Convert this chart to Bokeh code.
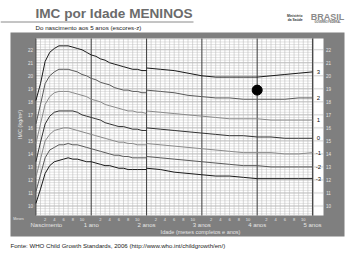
import numpy as np
from bokeh.plotting import figure
from bokeh.models import Range1d
from bokeh.core.properties import value
from bokeh.embed import file_html
from bokeh.resources import INLINE

# ---------------- data ----------------
months_0_2 = list(range(0, 25))
z_m3_0_2 = [10.2, 11.3, 12.5, 13.1, 13.4, 13.5, 13.6, 13.7, 13.6, 13.6, 13.5, 13.4, 13.4, 13.3, 13.2, 13.1, 13.1, 13.0, 12.9, 12.9, 12.8, 12.8, 12.8, 12.8, 12.8]
z_m2_0_2 = [11.1, 12.4, 13.7, 14.3, 14.5, 14.7, 14.7, 14.8, 14.7, 14.7, 14.6, 14.5, 14.4, 14.3, 14.2, 14.1, 14.0, 13.9, 13.9, 13.8, 13.8, 13.7, 13.7, 13.7, 13.7]
z_m1_0_2 = [12.2, 13.6, 15.0, 15.5, 15.8, 15.9, 16.0, 16.0, 15.9, 15.8, 15.7, 15.6, 15.5, 15.4, 15.3, 15.2, 15.1, 15.0, 14.9, 14.9, 14.8, 14.8, 14.7, 14.7, 14.7]
z_0_0_2 = [13.4, 14.9, 16.3, 16.9, 17.2, 17.3, 17.3, 17.3, 17.3, 17.2, 17.0, 16.9, 16.8, 16.7, 16.6, 16.4, 16.3, 16.2, 16.1, 16.1, 16.0, 15.9, 15.9, 15.8, 15.8]
z_p1_0_2 = [14.8, 16.3, 17.8, 18.4, 18.7, 18.8, 18.8, 18.8, 18.7, 18.6, 18.5, 18.4, 18.2, 18.1, 18.0, 17.8, 17.7, 17.6, 17.5, 17.4, 17.3, 17.3, 17.2, 17.2, 17.1]
z_p2_0_2 = [16.3, 17.8, 19.4, 20.0, 20.3, 20.5, 20.5, 20.5, 20.4, 20.3, 20.1, 20.0, 19.8, 19.7, 19.5, 19.4, 19.3, 19.1, 19.0, 18.9, 18.9, 18.8, 18.8, 18.7, 18.7]
z_p3_0_2 = [18.1, 19.4, 21.1, 21.8, 22.1, 22.3, 22.3, 22.3, 22.2, 22.1, 22.0, 21.8, 21.6, 21.5, 21.3, 21.2, 21.0, 20.9, 20.8, 20.7, 20.6, 20.5, 20.5, 20.4, 20.4]

months_2_5 = [24, 27, 30, 33, 36, 39, 42, 45, 48, 51, 54, 57, 60]
z_m3_2_5 = [12.9, 12.8, 12.6, 12.5, 12.4, 12.3, 12.3, 12.2, 12.1, 12.1, 12.1, 12.1, 12.1]
z_m2_2_5 = [13.8, 13.7, 13.6, 13.5, 13.4, 13.3, 13.2, 13.1, 13.1, 13.0, 13.0, 13.0, 13.0]
z_m1_2_5 = [14.8, 14.7, 14.6, 14.5, 14.4, 14.3, 14.2, 14.1, 14.1, 14.1, 14.0, 14.0, 14.1]
z_0_2_5 = [16.0, 15.9, 15.8, 15.7, 15.6, 15.5, 15.4, 15.4, 15.3, 15.3, 15.2, 15.2, 15.2]
z_p1_2_5 = [17.3, 17.2, 17.1, 17.0, 16.9, 16.8, 16.7, 16.7, 16.7, 16.6, 16.6, 16.6, 16.6]
z_p2_2_5 = [18.9, 18.8, 18.7, 18.5, 18.4, 18.3, 18.3, 18.2, 18.2, 18.2, 18.2, 18.3, 18.3]
z_p3_2_5 = [20.6, 20.5, 20.4, 20.2, 20.0, 19.9, 19.9, 19.9, 19.9, 20.0, 20.1, 20.2, 20.3]

z_names = ["-3", "-2", "-1", "0", "1", "2", "3"]
series_0_2 = [z_m3_0_2, z_m2_0_2, z_m1_0_2, z_0_0_2, z_p1_0_2, z_p2_0_2, z_p3_0_2]
series_2_5 = [z_m3_2_5, z_m2_2_5, z_m1_2_5, z_0_2_5, z_p1_2_5, z_p2_2_5, z_p3_2_5]

point_month = [48]
point_bmi = [18.9]

bmi_ticks = list(range(10, 23))
month_ticks = [2, 4, 6, 8, 10]
year_months = [12, 24, 36, 48, 60]
year_labels = ["1 ano", "2 anos", "3 anos", "4 anos", "5 anos"]

# ---------------- layout (pixel -> data mapping) ----------------
W, H = 348, 255
X0, XS = 35.4, 4.61      # pixel of month 0, px per month
Y10, YS = 205.5, 13.02   # pixel of BMI 10, px per unit

def X(px):
    return (px - X0) / XS

def Y(py):
    return 10 + (Y10 - py) / YS

FONT = value("Liberation Sans")

p = figure(width=W, height=H, x_range=Range1d(X(0), X(W)), y_range=Range1d(Y(H), Y(0)),
           output_backend="svg", toolbar_location=None, min_border=0,
           x_axis_location=None, y_axis_location=None,
           background_fill_color="white", border_fill_color="white", outline_line_color=None)
p.grid.visible = False

# panel
p.quad(left=[X(10)], right=[X(344)], top=[Y(32)], bottom=[Y(236)], fill_color="#7f7f7f", line_color=None)
top_v, bot_v = Y(38), Y(215)
p.quad(left=[0], right=[60], top=[top_v], bottom=[bot_v], fill_color="white", line_color=None)
p.quad(left=[X(313)], right=[X(323)], top=[top_v], bottom=[bot_v], fill_color="white", line_color=None)

# grid
hy = np.round(np.arange(9.4, 22.81, 0.2), 1)
minor_h = [v for v in hy if abs(v - round(v)) > 1e-6]
major_h = [v for v in hy if abs(v - round(v)) <= 1e-6]
p.segment(x0=0, x1=60, y0=minor_h, y1=minor_h, line_color="#c6c6c6", line_width=0.5)
p.segment(x0=0, x1=60, y0=major_h, y1=major_h, line_color="#9a9a9a", line_width=0.7)
p.segment(x0=X(313), x1=X(323), y0=major_h, y1=major_h, line_color="#b0b0b0", line_width=0.6)
vm = [m for m in range(1, 60) if m % 12 != 0]
p.segment(x0=vm, x1=vm, y0=bot_v, y1=top_v, line_color="#bdbdbd", line_width=0.6)
p.segment(x0=[0] + year_months, x1=[0] + year_months, y0=bot_v, y1=top_v, line_color="#4a4a4a", line_width=1.1)

# curves
colors = ["#1a1a1a", "#5a5a5a", "#8a8a8a", "#333333", "#8a8a8a", "#5a5a5a", "#1a1a1a"]
for s1, s2, c in zip(series_0_2, series_2_5, colors):
    p.line(months_0_2, s1, line_color=c, line_width=1.0)
    p.line(months_2_5, s2, line_color=c, line_width=1.0)

p.scatter(point_month, point_bmi, size=10, fill_color="black", line_color="black")

# z labels
p.text(x=[X(318)] * 7, y=[s[-1] for s in series_2_5], text=z_names, text_font=FONT,
       text_font_size="6px", text_color="#111111", text_align="center", text_baseline="middle")

# BMI tick labels
p.text(x=[X(30)] * len(bmi_ticks), y=bmi_ticks, text=[str(v) for v in bmi_ticks], text_font=FONT,
       text_font_size="4.5px", text_color="#e6e6e6", text_align="center", text_baseline="middle")
p.text(x=[X(328)] * len(bmi_ticks), y=bmi_ticks, text=[str(v) for v in bmi_ticks], text_font=FONT,
       text_font_size="4.5px", text_color="#e6e6e6", text_align="center", text_baseline="middle")

# month tick labels
mx = [y * 12 + m for y in range(5) for m in month_ticks]
p.text(x=mx, y=[Y(218.5)] * len(mx), text=[str(m) for y in range(5) for m in month_ticks], text_font=FONT,
       text_font_size="4px", text_color="#e6e6e6", text_align="center", text_baseline="middle")
p.text(x=[X(18)], y=[Y(218.5)], text=["Meses"], text_font=FONT,
       text_font_size="3.5px", text_color="#e6e6e6", text_align="center", text_baseline="middle")
p.text(x=year_months, y=[Y(224)] * len(year_months), text=year_labels, text_font=FONT,
       text_font_size="6px", text_color="#e6e6e6", text_align="center", text_baseline="middle")
p.text(x=[X(30)], y=[Y(224)], text=["Nascimento"], text_font=FONT,
       text_font_size="6px", text_color="#e6e6e6", text_align="left", text_baseline="middle")
p.text(x=[X(200)], y=[Y(231.5)], text=["Idade (meses completos e anos)"], text_font=FONT,
       text_font_size="5.5px", text_color="#e6e6e6", text_align="center", text_baseline="middle")
p.text(x=[X(19)], y=[Y(124)], text=["IMC (kg/m²)"], angle=np.pi / 2, text_font=FONT,
       text_font_size="5.5px", text_color="#e6e6e6", text_align="center", text_baseline="middle")

# titles
p.text(x=[X(35)], y=[Y(13)], text=["IMC por Idade MENINOS"], text_font=FONT, text_font_style="bold",
       text_font_size="13.6px", text_color="#6b6b6b", text_align="left", text_baseline="middle")
p.segment(x0=[X(0)], x1=[X(193)], y0=[Y(21.5)], y1=[Y(21.5)], line_color="#8a8a8a", line_width=1)
p.text(x=[X(35)], y=[Y(27)], text=["Do nascimento aos 5 anos (escores-z)"], text_font=FONT,
       text_font_size="6.2px", text_color="#222222", text_align="left", text_baseline="middle")

# logo
p.text(x=[X(302), X(302)], y=[Y(15.5), Y(19)], text=["Ministério", "da Saúde"], text_font=FONT,
       text_font_style="bold", text_font_size="3.3px", text_color="#333333", text_align="right", text_baseline="middle")
p.text(x=[X(327)], y=[Y(16.5)], text=["BRASIL"], text_font=FONT, text_font_style="bold",
       text_font_size="9px", text_color="#8a8a8a", text_align="center", text_baseline="middle")
p.text(x=[X(327)], y=[Y(21.8)], text=["GOVERNO FEDERAL"], text_font=FONT, text_font_style="bold",
       text_font_size="2.6px", text_color="#666666", text_align="center", text_baseline="middle")

# footer
p.text(x=[X(10)], y=[Y(245)], text=["Fonte: WHO Child Growth Standards, 2006 (http://www.who.int/childgrowth/en/)"],
       text_font=FONT, text_font_size="6.1px", text_color="#222222", text_align="left", text_baseline="middle")

open("out.html", "w").write(file_html(p, INLINE))
